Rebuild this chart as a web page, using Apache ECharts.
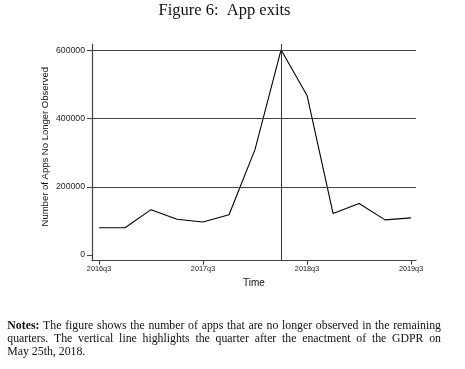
<!DOCTYPE html>
<html><head><meta charset="utf-8">
<script src="https://cdn.jsdelivr.net/npm/echarts@6/dist/echarts.min.js"></script>
<style>html,body{margin:0;padding:0;background:#fff}#c{width:465px;height:369px}</style>
</head><body><div id="c"></div>
<script>
const quarters = ['2016q3','2016q4','2017q1','2017q2','2017q3','2017q4','2018q1','2018q2','2018q3','2018q4','2019q1','2019q2','2019q3'];
const exits = [80000, 80000, 133000, 105000, 97000, 118000, 310000, 602000, 468000, 122000, 151000, 103000, 109000];
const xTickIdx = [0, 4, 8, 12];
const yTicks = [0, 200000, 400000, 600000];
const gridValues = [200000, 400000, 600000];
const gdprQuarter = '2018q2';
const noteLines = [
  ['Notes:', 'The figure shows the number of apps that are no longer observed in the remaining'],
  ['', 'quarters.  The vertical line highlights the quarter after the enactment of the GDPR on'],
  ['', 'May 25th, 2018.']
];

const sans = 'Liberation Sans';
const serif = 'Liberation Serif';
const noteSize = 11.8;
const noteLeft = 7.3, noteRight = 441, noteTop0 = 325.7, noteStep = 13.3;

// justified note text, laid out word by word
const ctx = document.createElement('canvas').getContext('2d');
const noteGraphics = [];
noteLines.forEach((ln, li) => {
  const words = [];
  if (ln[0]) words.push({t: ln[0], bold: true});
  ln[1].split(/\s+/).forEach(w => words.push({t: w, bold: false}));
  words.forEach(w => { ctx.font = (w.bold ? 'bold ' : '') + noteSize + 'px ' + serif; w.w = ctx.measureText(w.t).width; });
  const total = words.reduce((s, w) => s + w.w, 0);
  const justify = li < noteLines.length - 1;
  ctx.font = noteSize + 'px ' + serif;
  const gap = justify ? (noteRight - noteLeft - total) / (words.length - 1) : ctx.measureText(' ').width;
  let x = noteLeft;
  words.forEach(w => {
    noteGraphics.push({type: 'text', x: x, y: noteTop0 + li * noteStep,
      style: {text: w.t, font: (w.bold ? 'bold ' : '') + noteSize + 'px ' + serif, fill: '#111', textVerticalAlign: 'middle'}});
    x += w.w + gap;
  });
});

const chart = echarts.init(document.getElementById('c'), null, {renderer: 'canvas'});
chart.setOption({
  animation: false,
  grid: {left: 92, right: 49, top: 44, bottom: 108.3, containLabel: false},
  xAxis: {
    type: 'value', min: -0.27, max: 12.19,
    axisLine: {show: true, onZero: false, lineStyle: {color: '#444', width: 1.2}},
    axisTick: {show: true, inside: false, customValues: xTickIdx, length: 4, lineStyle: {color: '#444', width: 1.1}},
    axisLabel: {customValues: xTickIdx, formatter: v => quarters[Math.round(v)], fontFamily: sans, fontSize: 7.3, color: '#222', margin: 5},
    splitLine: {show: false},
    name: 'Time', nameLocation: 'middle', nameGap: 18,
    nameTextStyle: {fontFamily: sans, fontSize: 10, color: '#111'}
  },
  yAxis: {
    type: 'value', min: -16700, max: 619000,
    axisLine: {show: true, onZero: false, lineStyle: {color: '#444', width: 1.2}},
    axisTick: {show: true, inside: false, customValues: yTicks, length: 5, lineStyle: {color: '#444', width: 1.1}},
    axisLabel: {customValues: yTicks, formatter: v => String(Math.round(v)), fontFamily: sans, fontSize: 8.7, color: '#222', margin: 7},
    splitLine: {show: false}
  },
  graphic: [
    {type: 'text', x: 224.5, y: 11, style: {text: 'Figure 6:  App exits', font: '16.5px ' + serif, fill: '#111', textAlign: 'center', textVerticalAlign: 'middle'}},
    {type: 'text', x: 45.7, y: 146.7, rotation: Math.PI / 2, style: {text: 'Number of Apps No Longer Observed', font: '9.5px ' + sans, fill: '#111', textAlign: 'center', textVerticalAlign: 'middle'}}
  ].concat(noteGraphics),
  series: [{
    type: 'line',
    data: exits.map((v, i) => [i, v]),
    symbol: 'none',
    lineStyle: {color: '#000', width: 1.1},
    markLine: {
      silent: true, symbol: 'none', label: {show: false},
      lineStyle: {color: '#444', width: 1.2, type: 'solid'},
      data: gridValues.map(v => ({yAxis: v})).concat([{xAxis: quarters.indexOf(gdprQuarter), lineStyle: {color: '#333', width: 1}}])
    }
  }]
});
</script></body></html>
